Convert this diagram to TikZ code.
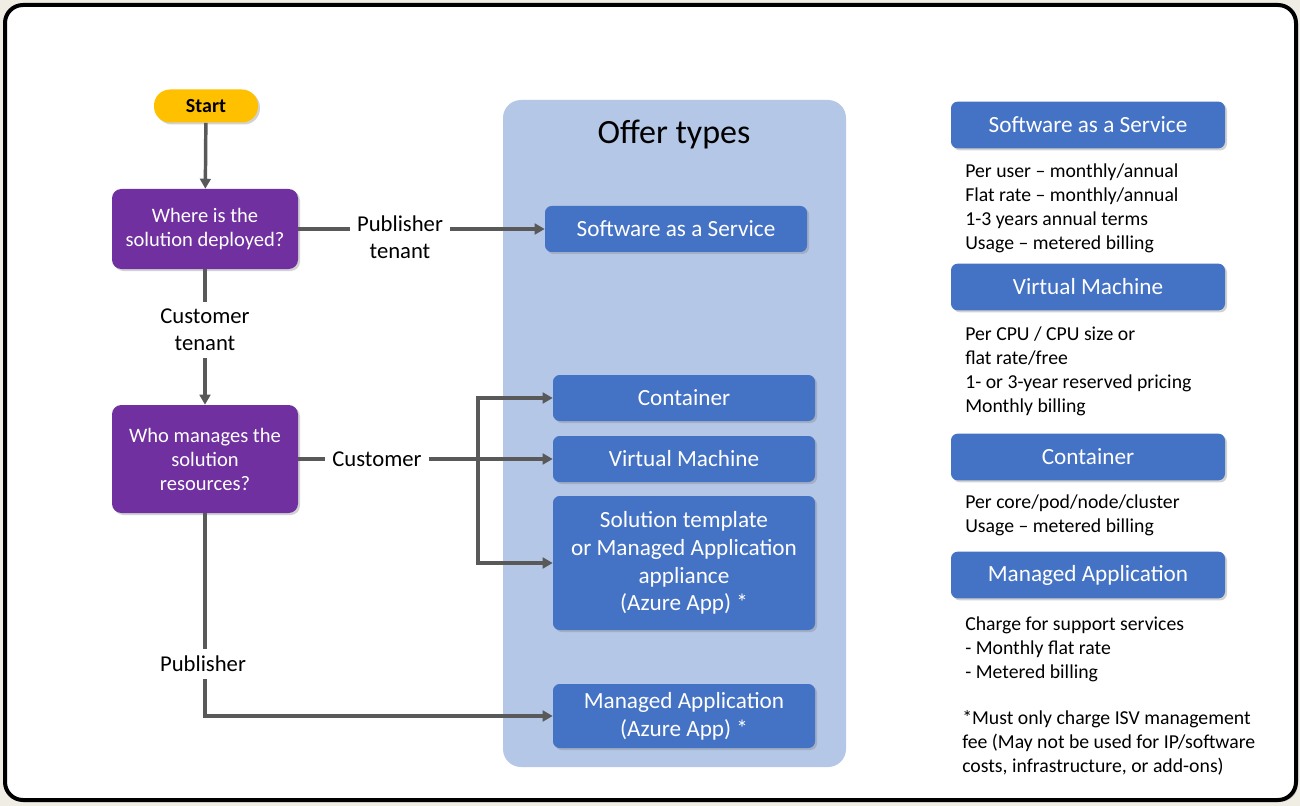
\documentclass[tikz,border=0pt]{standalone}
\usepackage{fontspec}
\setmainfont{Carlito}
\usetikzlibrary{arrows.meta,shadows,positioning}
\definecolor{startyellow}{HTML}{FFC000}
\definecolor{askpurple}{HTML}{7030A0}
\definecolor{offerblue}{HTML}{4472C4}
\definecolor{panelblue}{HTML}{B4C7E7}
\definecolor{linegray}{HTML}{595959}
\definecolor{pagebeige}{HTML}{F0EDE5}
\begin{document}
\begin{tikzpicture}[x=0.75pt,y=-0.75pt,
    every node/.style={font=\fontsize{14.8}{18}\selectfont},
    shade/.style={drop shadow={shadow xshift=1.5pt,shadow yshift=-1.5pt,opacity=.35}},
    startbox/.style={rounded corners=12pt,fill=startyellow,minimum width=78pt,minimum height=24.75pt,font=\fontsize{15}{18}\selectfont\bfseries,shade},
    ask/.style={rounded corners=7pt,fill=askpurple,text=white,minimum width=139.5pt,minimum height=60pt,align=center,font=\fontsize{15.4}{18}\selectfont,shade},
    box/.style={rounded corners=5pt,fill=offerblue,text=white,minimum width=196.5pt,minimum height=34.5pt,align=center,font=\fontsize{17.4}{20.8}\selectfont,shade},
    lbl/.style={align=center,inner sep=5pt,font=\fontsize{17}{20.3}\selectfont},
    note/.style={align=left,anchor=west,inner sep=0pt},
    ln/.style={draw=linegray,line width=2.6pt},
    arr/.style={ln,-{Triangle[length=7.5pt,width=8pt]}}]
  \fill[pagebeige] (0,0) rectangle (1300,806);
  \draw[line width=3pt,fill=white,rounded corners=13.5pt,drop shadow={shadow xshift=1.5pt,shadow yshift=-1.5pt,opacity=.3}] (5,5) rectangle (1296,800);
  % offer types panel
  \node[fill=panelblue,rounded corners=13.5pt,minimum width=257.25pt,minimum height=500.25pt,inner sep=0pt] (offer) at (674.5,433.5) {};
  \node[font=\fontsize{25.5}{30}\selectfont] (title) at (674,134) {Offer types};
  % decisions
  \node[startbox] (start) at (206,106) {Start};
  \node[ask] (where) at (205,229) {Where is the\\solution deployed?};
  \node[lbl] (pubt) at (400,237) {Publisher\\tenant};
  \node[lbl] (custt) at (205,330) {Customer\\tenant};
  \node[ask,minimum height=81pt] (who) at (205,459) {Who manages the\\solution\\resources?};
  \node[lbl] (cust) at (377,459) {Customer};
  \node[lbl] (pub) at (203,664) {Publisher};
  % offers
  \node[box] (saas) at (676,229) {Software as a Service};
  \node[box] (cont) at (684,398) {Container};
  \node[box] (vm) at (684,459) {Virtual Machine};
  \node[box,minimum height=100.5pt] (tmpl) at (684,563) {Solution template\\or Managed Application\\appliance\\(Azure App) *};
  \node[box,minimum height=48pt] (mapp) at (684,716) {Managed Application\\(Azure App) *};
  % pricing column
  \node[box,minimum width=205.5pt,minimum height=35pt] (rsaas) at (1088,125) {Software as a Service};
  \node[note] (nsaas) at (965,208) {Per user -- monthly/annual\\Flat rate -- monthly/annual\\1-3 years annual terms\\Usage -- metered billing};
  \node[box,minimum width=205.5pt,minimum height=35pt] (rvm) at (1088,287) {Virtual Machine};
  \node[note] (nvm) at (965,371.5) {Per CPU / CPU size or\\flat rate/free\\1- or 3-year reserved pricing\\Monthly billing};
  \node[box,minimum width=205.5pt,minimum height=35pt] (rcont) at (1088,457) {Container};
  \node[note] (ncont) at (965,515) {Per core/pod/node/cluster\\Usage -- metered billing};
  \node[box,minimum width=205.5pt,minimum height=35pt] (rmapp) at (1088,575) {Managed Application};
  \node[note] (nmapp) at (965,649) {Charge for support services\\- Monthly flat rate\\- Metered billing};
  \node[note] (foot) at (962,742.5) {*Must only charge ISV management\\fee (May not be used for IP/software\\costs, infrastructure, or add-ons)};
  % connectors
  \draw[arr] (start) -- (where);
  \draw[ln] (where.east) -- (where.east -| pubt.west);
  \draw[arr] (pubt.east |- saas.west) -- (saas.west);
  \draw[ln] (where) -- (custt);
  \draw[arr] (custt) -- (who);
  \draw[ln] (who) -- (cust);
  \coordinate (split) at (478,459);
  \draw[arr] (cust) -- (vm);
  \draw[arr] (split) |- (cont);
  \draw[arr] (split) |- (tmpl);
  \draw[ln] (who.south) -- (who.south |- pub.north);
  \draw[arr] (who.south |- pub.south) |- (mapp);
\end{tikzpicture}
\end{document}
